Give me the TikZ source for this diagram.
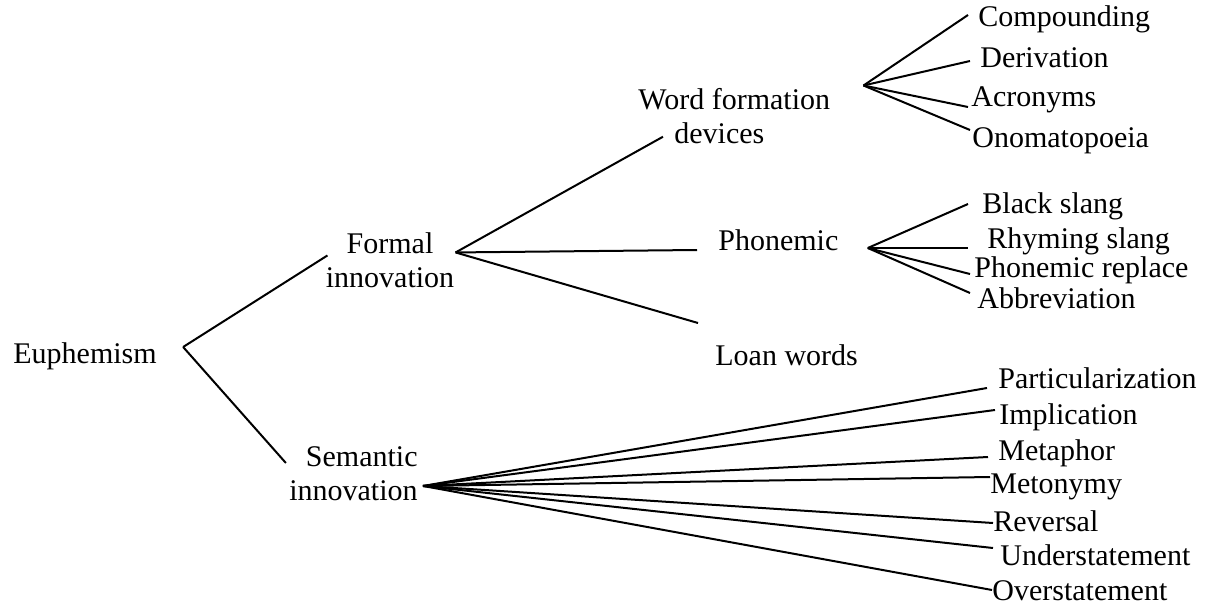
\documentclass[tikz,border=0pt]{standalone}
\usepackage{fontspec}
\setmainfont{Liberation Serif}
\begin{document}
\begin{tikzpicture}[x=0.5pt,y=-0.5pt,
  lbl/.style={inner sep=0pt, font=\fontsize{15}{17}\selectfont},
  link/.style={draw=black, line width=1pt}]
\useasboundingbox (0,0) rectangle (1217,605);
% main labels
\node[lbl, anchor=base west] (Eu) at (13,363) {Euphemism};
\node[lbl, align=center, anchor=north] (F) at (390,232.5) {Formal\\innovation};
\node[lbl, align=right, anchor=north east] (S) at (418,446.5) {Semantic\\innovation};
\node[lbl, align=left, anchor=north west] (W) at (638,87.5) {Word formation\\\hspace*{18pt}devices};
\node[lbl, anchor=base west] (P) at (718,250) {Phonemic};
\node[lbl, anchor=base west] (L) at (715,365) {Loan words};
% leaves: word formation
\node[lbl, anchor=base west] (c1) at (978,26) {Compounding};
\node[lbl, anchor=base west] (c2) at (980,68) {Derivation};
\node[lbl, anchor=base west] (c3) at (971,106) {Acronyms};
\node[lbl, anchor=base west] (c4) at (972,147) {Onomatopoeia};
% leaves: phonemic
\node[lbl, anchor=base west] (p1) at (982,213) {Black slang};
\node[lbl, anchor=base west] (p2) at (987,248) {Rhyming slang};
\node[lbl, anchor=base west] (p3) at (974,277) {Phonemic replace};
\node[lbl, anchor=base west] (p4) at (977,308) {Abbreviation};
% leaves: semantic
\node[lbl, anchor=base west] (s1) at (998,388) {Particularization};
\node[lbl, anchor=base west] (s2) at (999,424) {Implication};
\node[lbl, anchor=base west] (s3) at (998,460) {Metaphor};
\node[lbl, anchor=base west] (s4) at (990,493) {Metonymy};
\node[lbl, anchor=base west] (s5) at (993,531) {Reversal};
\node[lbl, anchor=base west] (s6) at (1000,565) {Understatement};
\node[lbl, anchor=base west] (s7) at (992,600) {Overstatement};
% fork points
\coordinate (fE) at ([shift={(26,-16)}]Eu.base east);
\coordinate (fF) at ([shift={(1,-8)}]F.east);
\coordinate (fS) at ([shift={(5,12)}]S.east);
\coordinate (fW) at ([shift={(33,-2)}]W.north east);
\coordinate (fP) at ([shift={(29,-2)}]P.base east);
% connectors
\draw[link] (fE) -- ([shift={(2,-5)}]F.west);
\draw[link] (fE) -- ([shift={(-3,-11)}]S.west);
\draw[link] (fF) -- ([shift={(25,-7)}]W.south west);
\draw[link] (fF) -- ([shift={(-21,0)}]P.base west);
\draw[link] (fF) -- ([shift={(-17,-42)}]L.base west);
\draw[link] (fW) -- ([shift={(-10,-11)}]c1.base west);
\draw[link] (fW) -- ([shift={(-10,-7)}]c2.base west);
\draw[link] (fW) -- ([shift={(-3,1)}]c3.base west);
\draw[link] (fW) -- ([shift={(-2,-17)}]c4.base west);
\draw[link] (fP) -- ([shift={(-14,-9)}]p1.base west);
\draw[link] (fP) -- ([shift={(-19,0)}]p2.base west);
\draw[link] (fP) -- ([shift={(-4,-3)}]p3.base west);
\draw[link] (fP) -- ([shift={(-7,-15)}]p4.base west);
\draw[link] (fS) -- ([shift={(-11,0)}]s1.base west);
\draw[link] (fS) -- ([shift={(-4,-14)}]s2.base west);
\draw[link] (fS) -- ([shift={(-10,-3)}]s3.base west);
\draw[link] (fS) -- ([shift={(0,-16)}]s4.base west);
\draw[link] (fS) -- ([shift={(0,-8)}]s5.base west);
\draw[link] (fS) -- ([shift={(-7,-17)}]s6.base west);
\draw[link] (fS) -- ([shift={(0,-10)}]s7.base west);
\end{tikzpicture}
\end{document}
